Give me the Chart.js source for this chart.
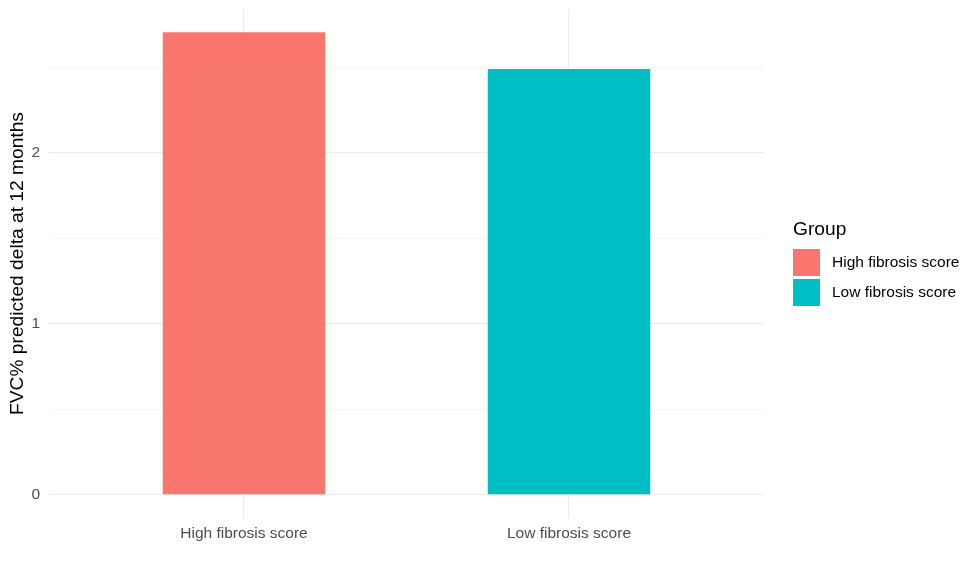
<!DOCTYPE html>
<html>
<head>
<meta charset="utf-8">
<script src="https://cdn.jsdelivr.net/npm/chart.js@4"></script>
<style>
  html, body { margin: 0; padding: 0; background: #fff; }
  #wrap { position: relative; width: 977px; height: 575px; font-family: "Liberation Sans", Arial, sans-serif; }
  #legend { position: absolute; left: 793px; top: 216px; }
  #legend .title { font-size: 19.2px; color: #000; height: 31px; line-height: 26px; }
  #legend .row { display: flex; align-items: center; height: 30px; }
  #legend .key { width: 27px; height: 27px; margin-right: 12px; }
  #legend .lab { font-size: 15.5px; color: #000; }
</style>
</head>
<body>
<div id="wrap">
  <canvas id="chart" width="977" height="575"></canvas>
  <div id="legend"></div>
</div>
<script>
// data
const groups = ['High fibrosis score', 'Low fibrosis score'];
const fvcDelta = [2.706, 2.491];
const groupColors = ['#F8766D', '#00BFC4'];
const yTicks = [0, 0.5, 1, 1.5, 2, 2.5];

document.addEventListener('DOMContentLoaded', function () {
    const ctx = document.getElementById('chart').getContext('2d');
    Chart.defaults.font.family = '"Liberation Sans", Arial, sans-serif';

    const datasets = groups.map(function (g, i) {
        return {
            label: g,
            data: [{ x: i + 1, y: fvcDelta[i] }],
            backgroundColor: groupColors[i],
            borderWidth: 0,
            barPercentage: 0.5,
            categoryPercentage: 1.0,
            grouped: false,
        };
    });

    new Chart(ctx, {
        type: 'bar',
        data: { datasets: datasets },
        options: {
            responsive: false,
            animation: false,
            layout: { padding: { top: 9, right: 213, left: 0, bottom: 0 } },
            scales: {
                x: {
                    type: 'linear',
                    min: 0.4,
                    max: 2.6,
                    offset: false,
                    border: { display: false },
                    grid: { color: '#ebebeb', lineWidth: 1.1, drawTicks: false, offset: false },
                    afterBuildTicks: function (scale) {
                        scale.ticks = groups.map(function (g, i) { return { value: i + 1 }; });
                    },
                    ticks: {
                        padding: 6,
                        color: '#4d4d4d',
                        font: { size: 15.5 },
                        maxRotation: 0,
                        callback: function (v) { return groups[Math.round(v) - 1]; },
                    },
                    afterFit: function (scale) {
                        scale.height = 57;
                        scale.paddingLeft = 0;
                        scale.paddingRight = 0;
                    },
                },
                y: {
                    min: -0.135,
                    max: 2.842,
                    border: { display: false },
                    grid: {
                        drawTicks: false,
                        lineWidth: 1.1,
                        color: function (c) {
                            return c.tick && Number.isInteger(c.tick.value) ? '#ebebeb' : '#f4f4f4';
                        },
                    },
                    afterBuildTicks: function (scale) {
                        scale.ticks = yTicks.map(function (v) { return { value: v }; });
                    },
                    ticks: {
                        padding: 9,
                        color: '#4d4d4d',
                        font: { size: 15.5 },
                        callback: function (v) { return Number.isInteger(v) ? String(v) : ''; },
                    },
                    title: {
                        display: true,
                        text: 'FVC% predicted delta at 12 months',
                        color: '#000',
                        font: { size: 19.2 },
                        padding: { top: 6, bottom: 0 },
                    },
                    afterFit: function (scale) {
                        scale.width = 49;
                        scale.paddingTop = 0;
                        scale.paddingBottom = 0;
                    },
                },
            },
            plugins: {
                legend: { display: false },
                tooltip: { enabled: false },
            },
        },
    });

    // legend
    const legend = document.getElementById('legend');
    let html = '<div class="title">Group</div>';
    groups.forEach(function (g, i) {
        html += '<div class="row"><div class="key" style="background:' + groupColors[i] + '"></div><div class="lab">' + g + '</div></div>';
    });
    legend.innerHTML = html;
});
</script>
</body>
</html>
